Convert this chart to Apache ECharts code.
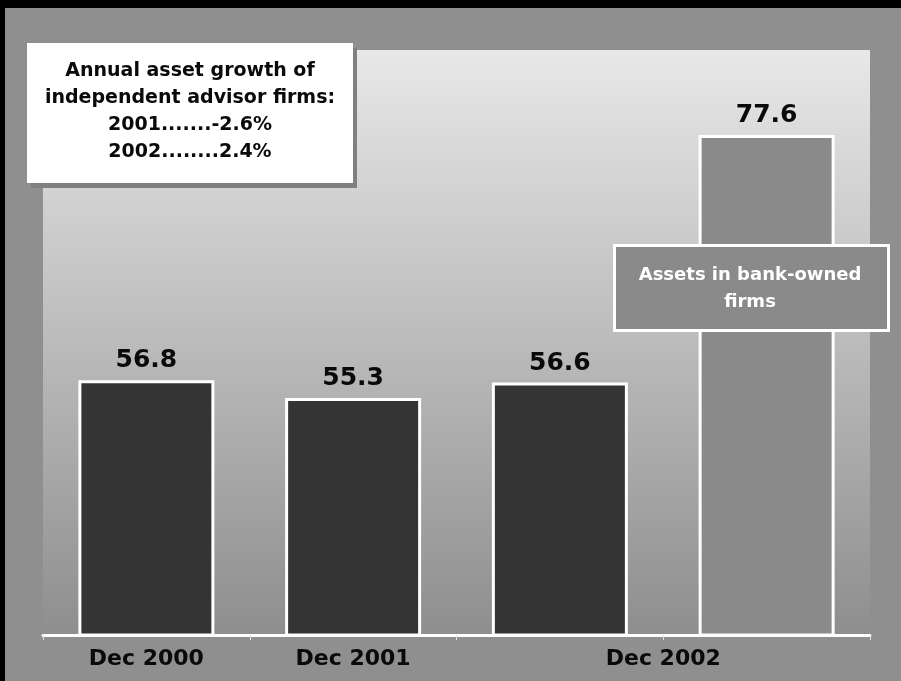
<!DOCTYPE html>
<html>
<head>
<meta charset="utf-8">
<script src="https://cdn.jsdelivr.net/npm/echarts@6/dist/echarts.min.js"></script>
<style>
  html, body { margin: 0; padding: 0; background: #8f8f8f; }
  #chart { width: 901px; height: 681px; }
</style>
</head>
<body>
<div id="chart"></div>
<script>
// Assets (in $ billions) held by independent advisor firms, plus bank-owned firms
var categories = ['Dec 2000', 'Dec 2001', 'Dec 2002', 'Dec 2002 (bank-owned)'];
var assetValues = [56.8, 55.3, 56.6, 77.6];
var barColors = ['#343434', '#343434', '#343434', '#8a8a8a'];

// Period labels under the axis, placed on a 0..4 value scale (category centres / shared boundary)
var periodLabels = ['Dec 2000', 'Dec 2001', 'Dec 2002'];
var periodPositions = [0.5, 1.5, 3];

var noteLines = [
  'Annual asset growth of',
  'independent advisor firms:',
  '2001.......-2.6%',
  '2002........2.4%'
];
var calloutLines = ['Assets in bank-owned', 'firms'];

var FONT = '"DejaVu Sans", sans-serif';
var chart = echarts.init(document.getElementById('chart'), null, { renderer: 'canvas' });

var option = {
  backgroundColor: '#8f8f8f',
  animation: false,
  grid: {
    left: 43, right: 31, top: 50, bottom: 46,
    show: true,
    borderWidth: 0,
    backgroundColor: new echarts.graphic.LinearGradient(0, 0, 0, 1, [
      { offset: 0, color: '#e8e8e8' },
      { offset: 1, color: '#8e8e8e' }
    ])
  },
  xAxis: [
    {
      type: 'category',
      data: categories,
      boundaryGap: true,
      axisLine: { show: true, lineStyle: { color: '#ffffff', width: 3 } },
      axisTick: { show: true, length: 5, lineStyle: { color: '#e0e0e0', width: 1 } },
      axisLabel: { show: false },
      splitLine: { show: false },
      z: 5
    },
    {
      type: 'value',
      position: 'bottom',
      min: 0, max: 4, interval: 0.5,
      axisLine: { show: false },
      axisTick: { show: false },
      splitLine: { show: false },
      axisLabel: {
        show: true,
        margin: 13,
        color: '#0a0a0a',
        fontFamily: FONT,
        fontWeight: 'bold',
        fontSize: 22,
        showMinLabel: true,
        showMaxLabel: true,
        formatter: function (v) {
          for (var i = 0; i < periodPositions.length; i++) {
            if (Math.abs(v - periodPositions[i]) < 1e-6) return periodLabels[i];
          }
          return '';
        }
      }
    }
  ],
  yAxis: {
    type: 'value',
    min: 35.2, max: 84.8,
    show: false,
    splitLine: { show: false }
  },
  graphic: [
    // dark frame edges
    { type: 'rect', left: 0, top: 0, shape: { width: 901, height: 8 }, style: { fill: '#000' }, z: 100 },
    { type: 'rect', left: 0, top: 0, shape: { width: 5, height: 681 }, style: { fill: '#000' }, z: 100 },
    // growth note box with drop shadow
    { type: 'rect', left: 31, top: 48, shape: { width: 326, height: 140 }, style: { fill: '#808080' }, z: 50 },
    { type: 'rect', left: 27, top: 43, shape: { width: 326, height: 140 }, style: { fill: '#ffffff' }, z: 51 },
    {
      type: 'text', x: 190, y: 58, z: 52,
      style: {
        text: noteLines.join('\n'),
        fill: '#0a0a0a',
        font: 'bold 19px ' + FONT,
        lineHeight: 27,
        align: 'center',
        verticalAlign: 'top'
      }
    },
    // callout over the bank-owned bar
    {
      type: 'rect', left: 613, top: 244, z: 60,
      shape: { width: 274, height: 85 },
      style: { fill: '#8a8a8a', stroke: '#ffffff', lineWidth: 3 }
    },
    {
      type: 'text', x: 750, y: 262, z: 61,
      style: {
        text: calloutLines.join('\n'),
        fill: '#ffffff',
        font: 'bold 18px ' + FONT,
        lineHeight: 27,
        align: 'center',
        verticalAlign: 'top'
      }
    }
  ],
  series: [
    {
      type: 'bar',
      xAxisIndex: 0,
      yAxisIndex: 0,
      barWidth: 136,
      data: assetValues.map(function (v, i) {
        return { value: v, itemStyle: { color: barColors[i] } };
      }),
      itemStyle: { borderColor: '#ffffff', borderWidth: 3 },
      label: {
        show: true,
        position: 'top',
        distance: 7,
        color: '#0a0a0a',
        fontFamily: FONT,
        fontWeight: 'bold',
        fontSize: 25,
        formatter: function (p) { return p.value.toFixed(1); }
      },
      z: 3
    }
  ]
};

chart.setOption(option);
</script>
</body>
</html>
